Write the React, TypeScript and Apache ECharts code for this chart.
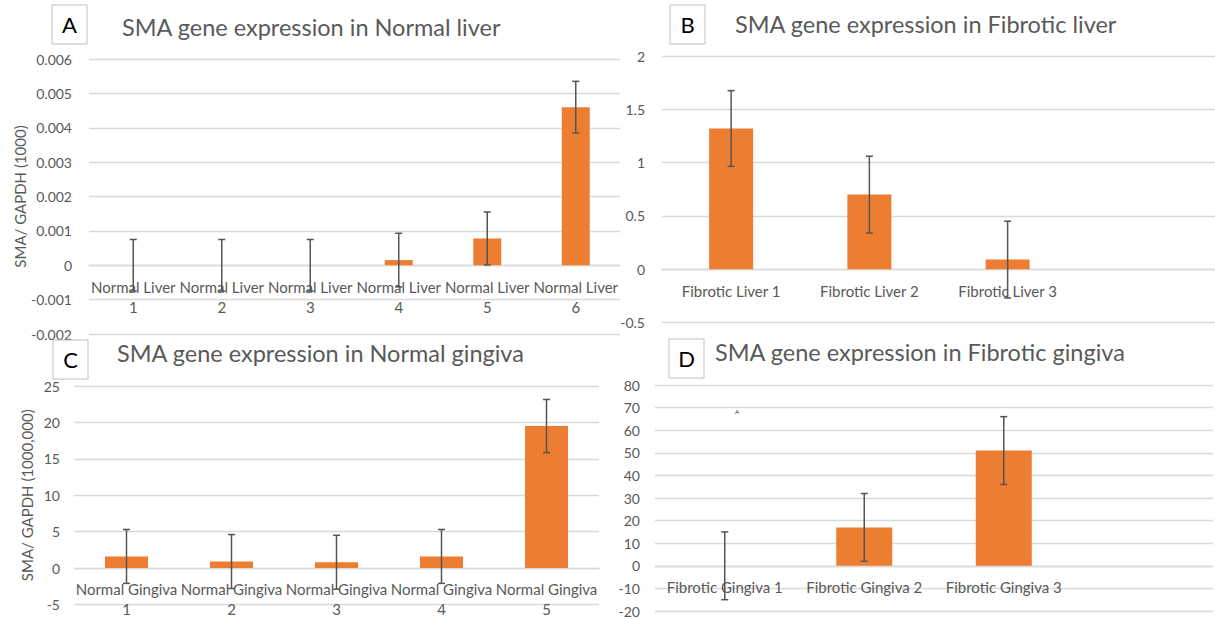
import React, { useEffect, useRef } from "react";
import * as echarts from "echarts";

const normalLiverCats = ["Normal Liver\n1", "Normal Liver\n2", "Normal Liver\n3", "Normal Liver\n4", "Normal Liver\n5", "Normal Liver\n6"];
const normalLiverVals = [0, 0, 0, 0.00015, 0.00078, 0.0046];
const normalLiverErr = [0.00075, 0.00075, 0.00075, 0.00078, 0.00077, 0.00075];

const fibroticLiverCats = ["Fibrotic Liver 1", "Fibrotic Liver 2", "Fibrotic Liver 3", ""];
const fibroticLiverVals = [1.32, 0.7, 0.09, null];
const fibroticLiverErr = [0.355, 0.36, 0.36, null];

const normalGingivaCats = ["Normal Gingiva\n1", "Normal Gingiva\n2", "Normal Gingiva\n3", "Normal Gingiva\n4", "Normal Gingiva\n5"];
const normalGingivaVals = [1.6, 0.9, 0.8, 1.6, 19.5];
const normalGingivaErr = [3.7, 3.7, 3.7, 3.7, 3.65];

const fibroticGingivaCats = ["Fibrotic Gingiva 1", "Fibrotic Gingiva 2", "Fibrotic Gingiva 3", ""];
const fibroticGingivaVals = [0, 17, 51, null];
const fibroticGingivaErr = [15, 15, 15, null];

const panelTitles = [
  "SMA gene expression in Normal liver",
  "SMA gene expression in Fibrotic liver",
  "SMA gene expression in Normal gingiva",
  "SMA gene expression in Fibrotic gingiva",
];
const panelLetters = ["A", "B", "C", "D"];
const yNames = ["SMA/ GAPDH (1000)", "", "SMA/ GAPDH (1000,000)", ""];

const FONT = "Lato, 'Open Sans', sans-serif";
const GRAY = "#595959";
const GRID = "#d9d9d9";
const ORANGE = "#ED7D31";

function errSeries(idx: number, vals: (number | null)[], errs: (number | null)[]) {
  return {
    type: "custom",
    xAxisIndex: idx,
    yAxisIndex: idx,
    z: 10,
    silent: true,
    data: vals
      .map((v, k) => (v === null || errs[k] === null ? null : [k, (v as number) - (errs[k] as number), (v as number) + (errs[k] as number)]))
      .filter((d) => d !== null),
    renderItem: (params: any, api: any) => {
      const lo = api.coord([api.value(0), api.value(1)]);
      const hi = api.coord([api.value(0), api.value(2)]);
      const hw = 3.5;
      const style = { stroke: "#555555", lineWidth: 1.5 };
      return {
        type: "group",
        children: [
          { type: "line", shape: { x1: hi[0], y1: hi[1], x2: lo[0], y2: lo[1] }, style },
          { type: "line", shape: { x1: hi[0] - hw, y1: hi[1], x2: hi[0] + hw, y2: hi[1] }, style },
          { type: "line", shape: { x1: lo[0] - hw, y1: lo[1], x2: lo[0] + hw, y2: lo[1] }, style },
        ],
      };
    },
  };
}

export default function App() {
  const ref = useRef<HTMLDivElement>(null);
  useEffect(() => {
    if (!ref.current) return;
    const chart = echarts.init(ref.current, null, { renderer: "svg" });

    const grids = [
      { left: 89, top: 59, width: 531, height: 275 },
      { left: 662, top: 56, width: 560, height: 266.5 },
      { left: 74, top: 386, width: 525, height: 219 },
      { left: 655, top: 385, width: 558, height: 226 },
    ];
    const cats = [normalLiverCats, fibroticLiverCats, normalGingivaCats, fibroticGingivaCats];
    const vals = [normalLiverVals, fibroticLiverVals, normalGingivaVals, fibroticGingivaVals];
    const errs = [normalLiverErr, fibroticLiverErr, normalGingivaErr, fibroticGingivaErr];
    const yMin = [-0.002, -0.5, -5, -20];
    const yMax = [0.006, 2, 25, 80];
    const yInt = [0.001, 0.5, 5, 10];
    const barW = [28, 44, 43, 56];
    const yLabelMargin = [17, 17, 14, 15];
    const xLabelMargin = [12, 12, 11, 11];
    const nameGap = [62, 0, 40, 0];

    const titlePos = [
      [122, 27],
      [735, 24],
      [117, 353],
      [715, 352],
    ];
    const boxPos = [
      [52, 5],
      [670, 5],
      [53, 340],
      [669, 339],
    ];

    const graphics: any[] = [];
    for (let i = 0; i < 4; i++) {
      graphics.push({
        type: "text",
        x: titlePos[i][0],
        y: titlePos[i][1],
        style: { text: panelTitles[i], fill: GRAY, font: `23.5px ${FONT}`, verticalAlign: "middle" },
        z: 20,
      });
      graphics.push({
        type: "rect",
        shape: { x: boxPos[i][0], y: boxPos[i][1], width: 35, height: 39 },
        style: { fill: "#fff", stroke: "#bfbfbf", lineWidth: 1 },
        z: 20,
      });
      graphics.push({
        type: "text",
        x: boxPos[i][0] + 17.5,
        y: boxPos[i][1] + 19.5,
        style: { text: panelLetters[i], fill: "#000", font: `22px ${FONT}`, align: "center", verticalAlign: "middle" },
        z: 21,
      });
    }
    graphics.push({
      type: "text",
      x: 737,
      y: 411,
      style: { text: "A", fill: "#333", font: `6px ${FONT}`, align: "center", verticalAlign: "middle" },
      z: 21,
    });

    const option: any = {
      animation: false,
      backgroundColor: "#fff",
      grid: grids,
      xAxis: cats.map((c, i) => ({
        type: "category",
        gridIndex: i,
        data: c,
        offset: -(grids[i].height * (0 - yMin[i])) / (yMax[i] - yMin[i]),
        axisLine: { onZero: false, lineStyle: { color: GRID, width: 1.3 } },
        axisTick: { show: false },
        axisLabel: {
          interval: 0,
          color: GRAY,
          fontFamily: FONT,
          fontSize: 15,
          lineHeight: 20,
          margin: xLabelMargin[i],
        },
      })),
      yAxis: cats.map((c, i) => ({
        type: "value",
        gridIndex: i,
        min: yMin[i],
        max: yMax[i],
        interval: yInt[i],
        name: yNames[i],
        nameLocation: "middle",
        nameGap: nameGap[i],
        nameTextStyle: { color: GRAY, fontFamily: FONT, fontSize: 15 },
        axisLine: { show: false },
        axisTick: { show: false },
        splitLine: { lineStyle: { color: GRID, width: 1.3 } },
        axisLabel: {
          color: GRAY,
          fontFamily: FONT,
          fontSize: 14,
          margin: yLabelMargin[i],
          formatter: (v: number) => String(Math.round(v * 1e6) / 1e6),
        },
      })),
      series: [
        ...vals.map((v, i) => ({
          type: "bar",
          xAxisIndex: i,
          yAxisIndex: i,
          data: v,
          barWidth: barW[i],
          itemStyle: { color: ORANGE },
          silent: true,
        })),
        ...vals.map((v, i) => errSeries(i, v, errs[i])),
      ],
      graphic: graphics,
    };
    chart.setOption(option);
    return () => chart.dispose();
  }, []);

  return <div ref={ref} style={{ position: "fixed", left: 0, top: 0, width: 1215, height: 619 }} />;
}
